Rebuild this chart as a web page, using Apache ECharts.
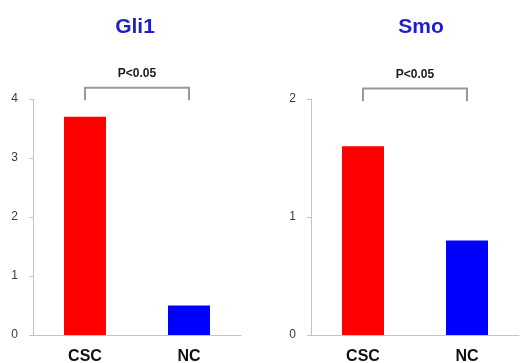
<!DOCTYPE html>
<html>
<head>
<meta charset="utf-8">
<script src="https://cdn.jsdelivr.net/npm/echarts@6/dist/echarts.min.js"></script>
<style>html,body{margin:0;padding:0;background:#fff}#c{width:523px;height:363px}</style>
</head>
<body>
<div id="c"></div>
<script>
const categories = ['CSC', 'NC'];
const gli1Values = [3.7, 0.5];
const smoValues = [1.6, 0.8];
const barColors = ['#ff0000', '#0000ff'];
const titles = ['Gli1', 'Smo'];
const pLabel = 'P<0.05';
const gli1Max = 4;
const smoMax = 2;
// bracket: [fromCategory, toCategory, legBottom, barTop]
const gli1Bracket = [[0, 1, 3.98, 4.19]];
const smoBracket = [[0, 1, 1.98, 2.09]];

const FONT = 'Arial, "Liberation Sans", sans-serif';
const chart = echarts.init(document.getElementById('c'), null, {renderer: 'canvas'});

function yAxis(idx, max) {
  return {
    type: 'value', gridIndex: idx, min: 0, max: max, interval: 1,
    axisLine: {show: true, lineStyle: {color: '#c4c4c4', width: 1}},
    axisTick: {show: true, length: 4, lineStyle: {color: '#c4c4c4'}},
    axisLabel: {color: '#3a3a3a', fontSize: 12, fontFamily: FONT, margin: 15},
    splitLine: {show: false}
  };
}
function xAxis(idx) {
  return {
    type: 'category', gridIndex: idx, data: categories,
    axisLine: {show: true, lineStyle: {color: '#c4c4c4', width: 1}},
    axisTick: {show: false},
    axisLabel: {color: '#111', fontSize: 16, fontWeight: 'bold', fontFamily: FONT, margin: 14}
  };
}
function bracketRender(params, api) {
  const a = api.coord([api.value(0), api.value(2)]);
  const b = api.coord([api.value(0), api.value(3)]);
  const c = api.coord([api.value(1), api.value(3)]);
  const d = api.coord([api.value(1), api.value(2)]);
  return {
    type: 'group',
    children: [
      {type: 'polyline', shape: {points: [a, b, c, d]}, style: {stroke: '#999', lineWidth: 2, fill: null}},
      {type: 'text', style: {text: pLabel, x: (b[0] + c[0]) / 2, y: b[1] - 8, align: 'center', verticalAlign: 'bottom',
        font: 'bold 12px ' + FONT, fill: '#1a1a1a'}}
    ]
  };
}
function barData(vals) {
  return vals.map((v, i) => ({value: v, itemStyle: {color: barColors[i]}}));
}

chart.setOption({
  backgroundColor: '#fff',
  animation: false,
  title: [
    {text: titles[0], left: 130, top: 12, textAlign: 'center',
      textStyle: {color: '#1f1fc8', fontSize: 21, fontWeight: 'bold', fontFamily: FONT}},
    {text: titles[1], left: 416, top: 12, textAlign: 'center',
      textStyle: {color: '#1f1fc8', fontSize: 21, fontWeight: 'bold', fontFamily: FONT}}
  ],
  grid: [
    {left: 33, top: 99, width: 208, height: 236, containLabel: false, outerBoundsMode: 'none'},
    {left: 311, top: 99, width: 208, height: 236, containLabel: false, outerBoundsMode: 'none'}
  ],
  xAxis: [xAxis(0), xAxis(1)],
  yAxis: [yAxis(0, gli1Max), yAxis(1, smoMax)],
  series: [
    {type: 'bar', xAxisIndex: 0, yAxisIndex: 0, barWidth: 42, data: barData(gli1Values)},
    {type: 'bar', xAxisIndex: 1, yAxisIndex: 1, barWidth: 42, data: barData(smoValues)},
    {type: 'custom', xAxisIndex: 0, yAxisIndex: 0, clip: false, renderItem: bracketRender,
      encode: {x: [0, 1], y: [2, 3]}, data: gli1Bracket, silent: true},
    {type: 'custom', xAxisIndex: 1, yAxisIndex: 1, clip: false, renderItem: bracketRender,
      encode: {x: [0, 1], y: [2, 3]}, data: smoBracket, silent: true}
  ]
});
</script>
</body>
</html>
